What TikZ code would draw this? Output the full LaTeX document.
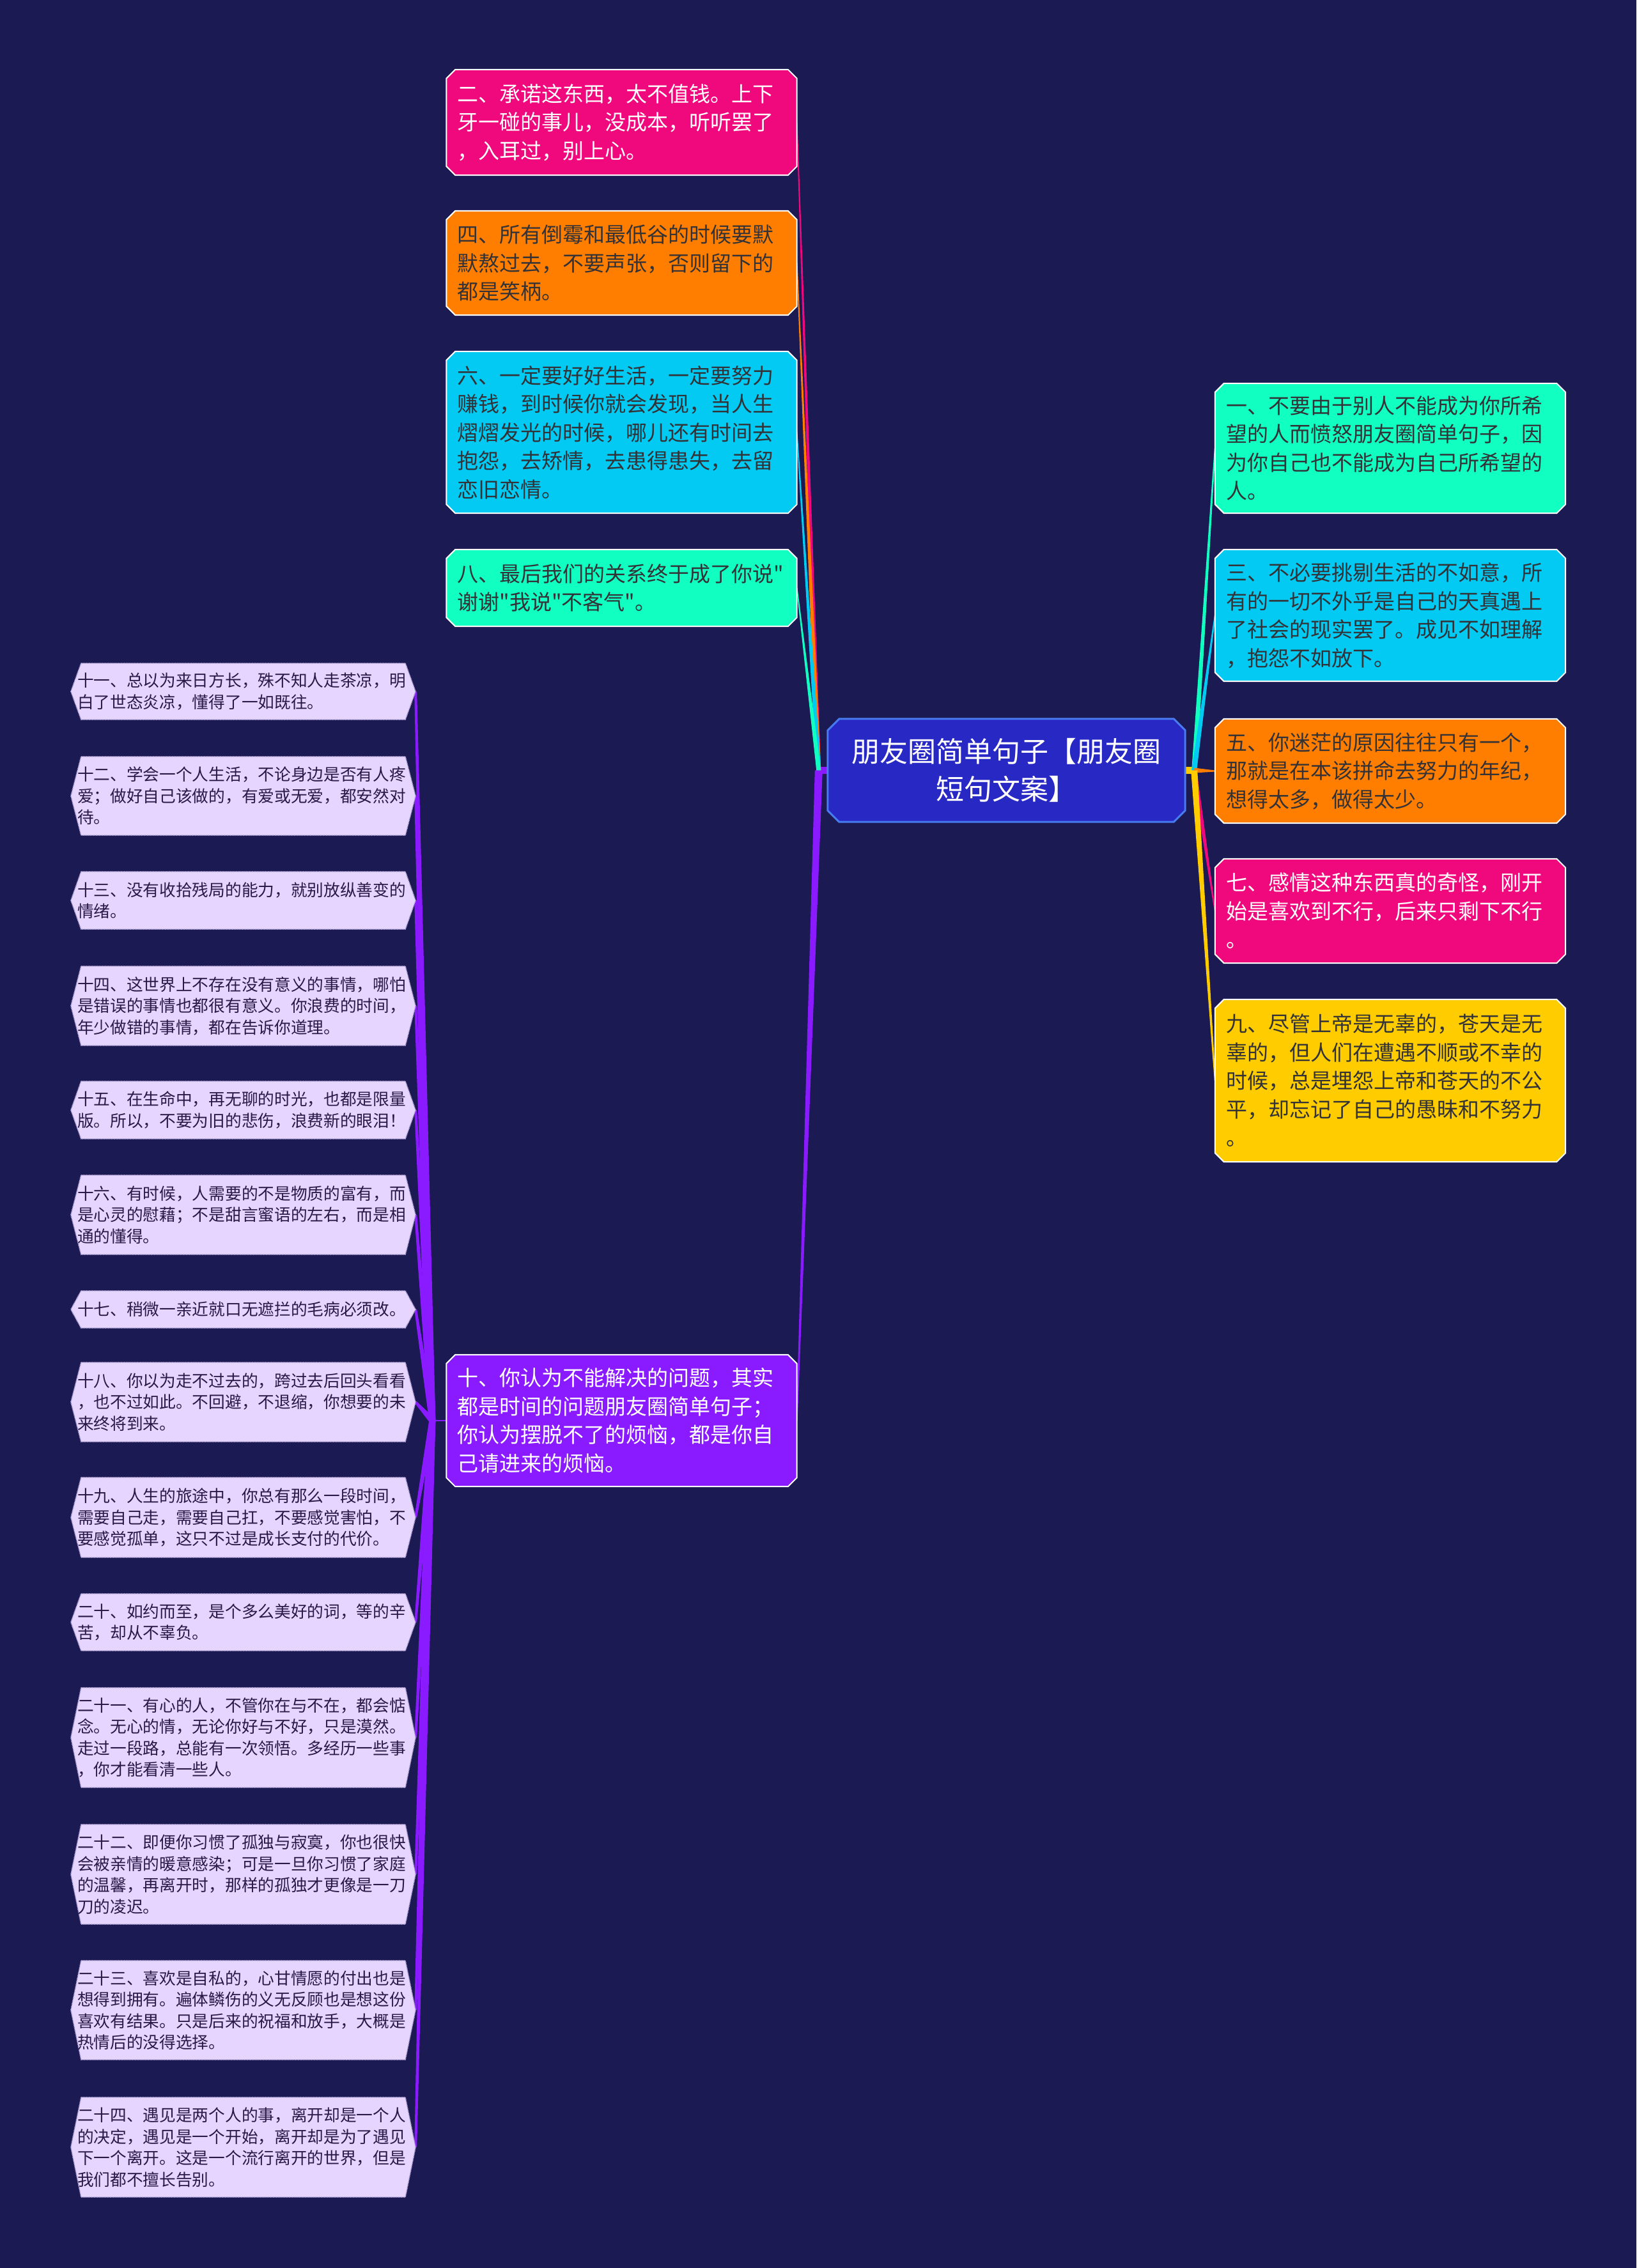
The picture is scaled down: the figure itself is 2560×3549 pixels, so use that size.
\documentclass[tikz,border=0pt]{standalone}
\usepackage{fontspec}
\setmainfont{Noto Sans CJK SC}[Ligatures=TeXOff]
\usetikzlibrary{calc}
\pgfdeclarelayer{bg}
\pgfsetlayers{bg,main}
\definecolor{bgc}{RGB}{27,26,82}
\definecolor{aquac}{RGB}{18,255,194}
\definecolor{cyanc}{RGB}{2,202,242}
\definecolor{orangec}{RGB}{255,126,0}
\definecolor{pinkc}{RGB}{240,8,125}
\definecolor{yellowc}{RGB}{255,204,0}
\definecolor{purplec}{RGB}{138,26,255}
\definecolor{rootc}{RGB}{40,40,196}
\definecolor{rootb}{RGB}{72,122,240}
\definecolor{leafc}{RGB}{230,213,255}
\definecolor{leafb}{RGB}{175,160,210}
\definecolor{darktext}{RGB}{50,50,55}
\definecolor{leaftext}{RGB}{40,25,70}
% tapered connector: from, to, half width at start, half width at end, style
\newcommand\mmtaper[5]{\fill[#5] ($(#1)!#3!90:(#2)$) -- ($(#2)!#4!-90:(#1)$) -- ($(#2)!#4!90:(#1)$) -- ($(#1)!#3!-90:(#2)$) -- cycle;}
% chamfered box behind a node: name, style, cut
\newcommand\mmcham[3]{\path[#2] ([xshift=#3]#1.north west) -- ([xshift=-#3]#1.north east) -- ([yshift=-#3]#1.north east) -- ([yshift=#3]#1.south east) -- ([xshift=-#3]#1.south east) -- ([xshift=#3]#1.south west) -- ([yshift=#3]#1.south west) -- ([yshift=-#3]#1.north west) -- cycle;}
% hexagon behind a leaf: name, style
\newcommand\mmhex[2]{\path[#2] ([xshift=16pt]#1.north west) -- ([xshift=-16pt]#1.north east) -- (#1.east) -- ([xshift=-16pt]#1.south east) -- ([xshift=16pt]#1.south west) -- (#1.west) -- cycle;}
\begin{document}
\begin{tikzpicture}[x=1pt,y=-1pt,
  txt/.style={draw=none,fill=none,inner ysep=0pt,anchor=center,align=left},
  mid/.style={txt,minimum width=548pt,text width=514pt,inner xsep=17pt,font=\fontsize{33}{44.5}\selectfont,text=darktext},
  midw/.style={mid,text=white},
  leaf/.style={txt,minimum width=539pt,text width=519pt,inner xsep=10pt,font=\fontsize{25.7}{33.5}\selectfont,text=leaftext},
  rootn/.style={txt,align=center,minimum width=559pt,minimum height=161pt,text width=520pt,font=\fontsize{44}{59}\selectfont,text=white},
  shp/.style={draw=white,line width=2pt,fill=#1},
  rootshp/.style={draw=rootb,line width=3pt,fill=rootc},
  leafshp/.style={fill=leafc,draw=leafb,densely dotted,line width=1.5pt},
  conn/.style={fill=#1},
  stub/.style={draw=#1,line width=11pt}
]
\useasboundingbox (0,0) rectangle (2560,3549);

% root
\node[rootn] (root) at (1574.5,1205.5) {朋友圈简单句子【朋友圈\\短句文案】};

% right branch
\node[mid,minimum height=203pt] (n1) at (2175,701.5) {一、不要由于别人不能成为你所希\\望的人而愤怒朋友圈简单句子，因\\为你自己也不能成为自己所希望的\\人。};
\node[mid,minimum height=206pt] (n3) at (2175,963) {三、不必要挑剔生活的不如意，所\\有的一切不外乎是自己的天真遇上\\了社会的现实罢了。成见不如理解\\，抱怨不如放下。};
\node[mid,minimum height=163pt] (n5) at (2175,1206.5) {五、你迷茫的原因往往只有一个，\\那就是在本该拼命去努力的年纪，\\想得太多，做得太少。};
\node[midw,minimum height=163pt] (n7) at (2175,1425.5) {七、感情这种东西真的奇怪，刚开\\始是喜欢到不行，后来只剩下不行\\。};
\node[mid,minimum height=254pt] (n9) at (2175,1691) {九、尽管上帝是无辜的，苍天是无\\辜的，但人们在遭遇不顺或不幸的\\时候，总是埋怨上帝和苍天的不公\\平，却忘记了自己的愚昧和不努力\\。};

% left branch
\node[midw,minimum height=165pt] (n2) at (972.5,191.5) {二、承诺这东西，太不值钱。上下\\牙一碰的事儿，没成本，听听罢了\\，入耳过，别上心。};
\node[mid,minimum height=163pt] (n4) at (972.5,411.5) {四、所有倒霉和最低谷的时候要默\\默熬过去，不要声张，否则留下的\\都是笑柄。};
\node[mid,minimum height=253pt] (n6) at (972.5,676.5) {六、一定要好好生活，一定要努力\\赚钱，到时候你就会发现，当人生\\熠熠发光的时候，哪儿还有时间去\\抱怨，去矫情，去患得患失，去留\\恋旧恋情。};
\node[mid,minimum height=120pt] (n8) at (972.5,920) {八、最后我们的关系终于成了你说"\\谢谢"我说"不客气"。};
\node[midw,minimum height=206pt] (n10) at (972.5,2223) {十、你认为不能解决的问题，其实\\都是时间的问题朋友圈简单句子；\\你认为摆脱不了的烦恼，都是你自\\己请进来的烦恼。};

% leaves
\node[leaf,minimum height=88pt] (l11) at (380.5,1082) {十一、总以为来日方长，殊不知人走茶凉，明\\白了世态炎凉，懂得了一如既往。};
\node[leaf,minimum height=123pt] (l12) at (380.5,1245.5) {十二、学会一个人生活，不论身边是否有人疼\\爱；做好自己该做的，有爱或无爱，都安然对\\待。};
\node[leaf,minimum height=90pt] (l13) at (380.5,1409) {十三、没有收拾残局的能力，就别放纵善变的\\情绪。};
\node[leaf,minimum height=124pt] (l14) at (380.5,1574) {十四、这世界上不存在没有意义的事情，哪怕\\是错误的事情也都很有意义。你浪费的时间，\\年少做错的事情，都在告诉你道理。};
\node[leaf,minimum height=90pt] (l15) at (380.5,1737) {十五、在生命中，再无聊的时光，也都是限量\\版。所以，不要为旧的悲伤，浪费新的眼泪！};
\node[leaf,minimum height=124pt] (l16) at (380.5,1901) {十六、有时候，人需要的不是物质的富有，而\\是心灵的慰藉；不是甜言蜜语的左右，而是相\\通的懂得。};
\node[leaf,minimum height=58pt] (l17) at (380.5,2049) {十七、稍微一亲近就口无遮拦的毛病必须改。};
\node[leaf,minimum height=124pt] (l18) at (380.5,2194) {十八、你以为走不过去的，跨过去后回头看看\\，也不过如此。不回避，不退缩，你想要的未\\来终将到来。};
\node[leaf,minimum height=125pt] (l19) at (380.5,2374.5) {十九、人生的旅途中，你总有那么一段时间，\\需要自己走，需要自己扛，不要感觉害怕，不\\要感觉孤单，这只不过是成长支付的代价。};
\node[leaf,minimum height=89pt] (l20) at (380.5,2538.5) {二十、如约而至，是个多么美好的词，等的辛\\苦，却从不辜负。};
\node[leaf,minimum height=156pt] (l21) at (380.5,2719) {二十一、有心的人，不管你在与不在，都会惦\\念。无心的情，无论你好与不好，只是漠然。\\走过一段路，总能有一次领悟。多经历一些事\\，你才能看清一些人。};
\node[leaf,minimum height=156pt] (l22) at (380.5,2933) {二十二、即便你习惯了孤独与寂寞，你也很快\\会被亲情的暖意感染；可是一旦你习惯了家庭\\的温馨，再离开时，那样的孤独才更像是一刀\\刀的凌迟。};
\node[leaf,minimum height=155pt] (l23) at (380.5,3145.5) {二十三、喜欢是自私的，心甘情愿的付出也是\\想得到拥有。遍体鳞伤的义无反顾也是想这份\\喜欢有结果。只是后来的祝福和放手，大概是\\热情后的没得选择。};
\node[leaf,minimum height=156pt] (l24) at (380.5,3360) {二十四、遇见是两个人的事，离开却是一个人\\的决定，遇见是一个开始，离开却是为了遇见\\下一个离开。这是一个流行离开的世界，但是\\我们都不擅长告别。};

% hubs
\coordinate (rh) at ($(root.east)+(14,0)$);
\coordinate (lh) at ($(root.west)+(-14,0)$);
\coordinate (bh) at ($(n10.west)+(-22,0)$);

\begin{pgfonlayer}{bg}
\fill[bgc] (0,0) rectangle (2560,3549);
% connectors right
\draw[stub=yellowc] (root.east) -- (rh);
\mmtaper{rh}{n1.west}{4pt}{1pt}{conn=aquac}
\mmtaper{rh}{n3.west}{4pt}{1pt}{conn=cyanc}
\mmtaper{rh}{n5.west}{4pt}{1pt}{conn=orangec}
\mmtaper{rh}{n7.west}{4pt}{1pt}{conn=pinkc}
\mmtaper{rh}{n9.west}{5pt}{1pt}{conn=yellowc}
% connectors left
\draw[stub=purplec] (root.west) -- (lh);
\mmtaper{lh}{n2.east}{3.5pt}{0.8pt}{conn=pinkc}
\mmtaper{lh}{n4.east}{3.5pt}{0.8pt}{conn=orangec}
\mmtaper{lh}{n6.east}{3.5pt}{0.8pt}{conn=cyanc}
\mmtaper{lh}{n8.east}{3.5pt}{0.8pt}{conn=aquac}
\mmtaper{lh}{n10.east}{6pt}{1pt}{conn=purplec}
% connectors to leaves
\draw[purplec,line width=2pt] (n10.west) -- (bh);
\foreach \n in {l11,l12,l13,l14,l15,l16,l17,l18,l19,l20,l21,l22,l23,l24}{
  \mmtaper{bh}{\n.east}{5pt}{2pt}{conn=purplec}
}
% shapes
\mmcham{root}{rootshp}{18pt}
\mmcham{n1}{shp=aquac}{14pt}
\mmcham{n3}{shp=cyanc}{14pt}
\mmcham{n5}{shp=orangec}{14pt}
\mmcham{n7}{shp=pinkc}{14pt}
\mmcham{n9}{shp=yellowc}{14pt}
\mmcham{n2}{shp=pinkc}{14pt}
\mmcham{n4}{shp=orangec}{14pt}
\mmcham{n6}{shp=cyanc}{14pt}
\mmcham{n8}{shp=aquac}{14pt}
\mmcham{n10}{shp=purplec}{14pt}
\foreach \n in {l11,l12,l13,l14,l15,l16,l17,l18,l19,l20,l21,l22,l23,l24}{
  \mmhex{\n}{leafshp}
}
\end{pgfonlayer}
\end{tikzpicture}
\end{document}
